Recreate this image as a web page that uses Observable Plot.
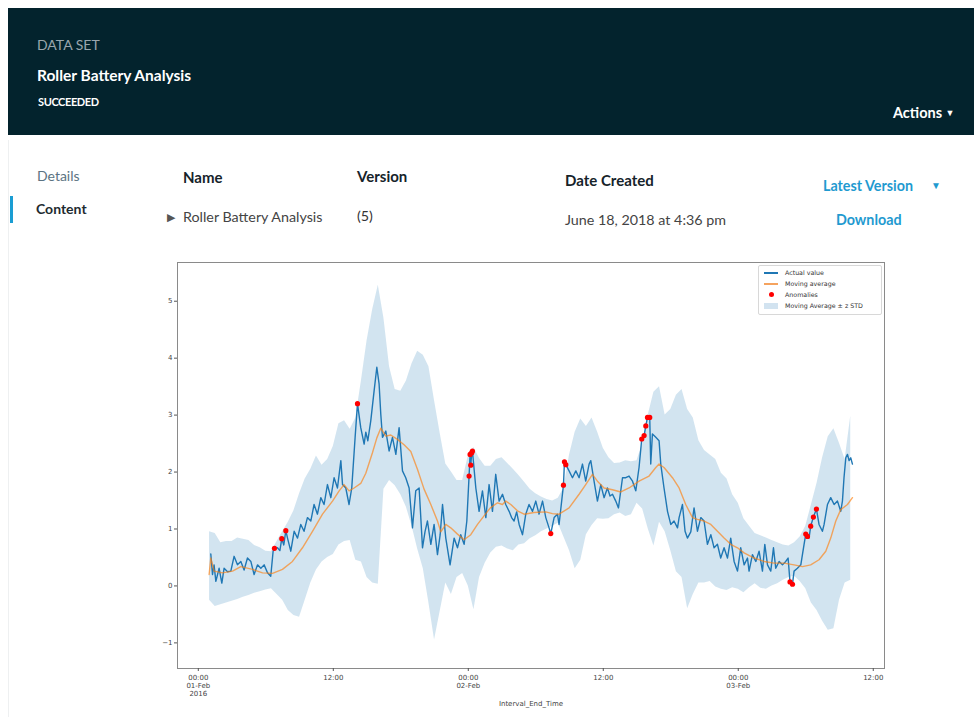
<!DOCTYPE html>
<html>
<head>
<meta charset="utf-8">
<script src="https://cdn.jsdelivr.net/npm/d3@7"></script>
<script src="https://cdn.jsdelivr.net/npm/@observablehq/plot@0.6"></script>
<style>
  html, body { margin: 0; padding: 0; background: #fff; }
  #page { position: relative; width: 974px; height: 717px; overflow: hidden; font-family: Lato, "Open Sans", sans-serif; }
  .t { position: absolute; white-space: nowrap; line-height: 1; }
  #header { position: absolute; left: 8px; top: 8px; width: 966px; height: 127px; background: #03232d; }
  #chart { position: absolute; left: 130px; top: 250px; }
  #legend { position: absolute; left: 758px; top: 265px; width: 122px; height: 48px; background: rgba(255,255,255,0.9); border: 1px solid #d8d8d8; border-radius: 2px; font-family: "DejaVu Sans", sans-serif; font-size: 6.3px; color: #333; }
  .lg { position: absolute; left: 0; height: 10px; width: 122px; }
  .lg .sym { position: absolute; left: 5px; top: 4px; width: 14px; height: 2px; }
  .lg .lab { position: absolute; left: 26px; top: 1px; white-space: nowrap; }
</style>
</head>
<body>
<div id="page">
  <div id="header"></div>
  <div class="t" style="left:37px;top:38px;font-size:14px;color:#9aa6ad;">DATA SET</div>
  <div class="t" style="left:37px;top:68px;font-size:15.5px;color:#fff;font-weight:700;">Roller Battery Analysis</div>
  <div class="t" style="left:38px;top:96px;font-size:11px;color:#fff;font-weight:700;letter-spacing:-0.4px;">SUCCEEDED</div>
  <div class="t" style="left:893px;top:106px;font-size:14.5px;color:#fff;font-weight:700;">Actions <span style="font-size:9px;vertical-align:2px;">&#9660;</span></div>

  <div style="position:absolute;left:8px;top:140px;width:1px;height:577px;background:#eef0f1;"></div>
  <div style="position:absolute;left:10px;top:196px;width:3px;height:27px;background:#1a9dd3;"></div>
  <div class="t" style="left:37px;top:169px;font-size:14px;color:#5b7382;">Details</div>
  <div class="t" style="left:36px;top:202px;font-size:14px;color:#1e2a30;font-weight:700;">Content</div>

  <div class="t" style="left:183px;top:170px;font-size:15px;color:#16232a;font-weight:700;">Name</div>
  <div class="t" style="left:357px;top:169px;font-size:15px;color:#16232a;font-weight:700;">Version</div>
  <div class="t" style="left:565px;top:173px;font-size:15px;color:#16232a;font-weight:700;">Date Created</div>
  <div class="t" style="left:823px;top:179px;font-size:14.3px;color:#1f9ad0;font-weight:700;">Latest Version</div>
  <div class="t" style="left:931px;top:180px;font-size:10px;color:#1f9ad0;">&#9660;</div>

  <div class="t" style="left:167px;top:211px;font-size:11px;color:#555;">&#9654;</div>
  <div class="t" style="left:183px;top:210px;font-size:14.3px;color:#444;">Roller Battery Analysis</div>
  <div class="t" style="left:357px;top:209px;font-size:14.3px;color:#333;">(5)</div>
  <div class="t" style="left:565px;top:213px;font-size:14.3px;color:#444;">June 18, 2018 at 4:36 pm</div>
  <div class="t" style="left:836px;top:213px;font-size:14.3px;color:#1f9ad0;font-weight:700;">Download</div>

  <div id="chart"></div>
  <div id="legend">
    <div class="lg" style="top:2px;"><div class="sym" style="background:#1f77b4;"></div><div class="lab">Actual value</div></div>
    <div class="lg" style="top:13px;"><div class="sym" style="background:#f5a35e;"></div><div class="lab">Moving average</div></div>
    <div class="lg" style="top:24px;"><div class="sym" style="left:10px;top:2px;width:5px;height:5px;border-radius:50%;background:red;"></div><div class="lab">Anomalies</div></div>
    <div class="lg" style="top:35px;"><div class="sym" style="top:2px;height:6px;background:#d2e3f0;"></div><div class="lab">Moving Average &#177; z STD</div></div>
  </div>
</div>
<script>
// ---- data (hours after 2016-02-01 00:00) ----
const actualHours = [1.11,1.26,1.40,1.56,1.85,2.09,2.29,2.60,2.89,3.18,3.48,3.78,4.07,4.37,4.67,4.96,5.26,5.56,5.85,6.15,6.44,6.65,6.77,7.04,7.25,7.42,7.60,7.78,7.93,8.22,8.52,8.82,9.11,9.40,9.70,10.00,10.29,10.59,10.89,11.18,11.48,11.78,12.07,12.37,12.67,12.82,13.11,13.40,13.64,13.94,14.15,14.44,14.74,14.89,15.07,15.33,15.63,15.87,16.07,16.22,16.37,16.67,16.96,17.26,17.56,17.85,18.15,18.44,18.74,19.04,19.33,19.63,19.93,20.15,20.37,20.67,20.96,21.26,21.50,21.71,22.00,22.38,22.74,23.04,23.33,23.63,23.87,24.07,24.16,24.22,24.31,24.37,24.67,24.96,25.26,25.56,25.85,26.15,26.44,26.74,27.04,27.33,27.63,27.85,28.07,28.30,28.52,28.82,29.11,29.40,29.71,30.00,30.29,30.60,30.89,31.18,31.33,31.63,31.93,32.07,32.46,32.55,32.67,32.96,33.26,33.56,33.85,34.15,34.44,34.74,34.89,35.18,35.48,35.78,36.07,36.37,36.60,36.82,37.11,37.35,37.71,38.00,38.29,38.60,38.89,39.18,39.42,39.63,39.78,39.93,40.13,40.22,40.37,40.67,40.96,41.11,41.40,41.71,42.00,42.29,42.60,42.74,43.04,43.27,43.48,43.78,44.07,44.37,44.67,44.96,45.26,45.56,45.85,46.15,46.44,46.74,47.04,47.33,47.63,47.93,48.22,48.52,48.82,48.96,49.26,49.56,49.85,50.15,50.36,50.60,50.89,51.13,51.33,51.63,51.93,52.22,52.43,52.60,52.82,52.96,53.26,53.56,53.85,54.00,54.15,54.29,54.44,54.68,54.95,55.18,55.48,55.63,55.93,56.22,56.52,56.82,57.11,57.26,57.40,57.56,57.71,57.85,58.00,58.15];
const actualValues = [0.56,0.20,0.37,0.08,0.31,0.05,0.31,0.25,0.26,0.52,0.37,0.43,0.28,0.49,0.43,0.20,0.37,0.31,0.37,0.23,0.17,0.61,0.66,0.67,0.62,0.83,0.72,0.97,0.84,0.61,0.96,0.84,1.08,0.96,1.20,1.14,1.43,1.26,1.55,1.43,1.78,1.55,1.90,1.72,2.20,1.78,1.72,1.43,1.72,2.61,3.20,2.78,2.49,2.70,2.55,2.90,3.43,3.84,3.55,3.02,2.61,2.72,2.37,2.61,2.31,2.78,2.02,1.90,1.72,1.02,1.67,1.72,0.67,0.95,1.14,0.73,1.08,0.55,0.90,1.43,0.84,0.37,0.84,0.67,0.90,0.73,1.14,1.93,2.31,2.12,2.34,2.37,1.72,1.31,1.67,1.20,1.78,1.31,1.96,1.49,1.61,1.43,1.31,1.20,1.14,1.30,1.08,0.90,1.26,1.43,1.31,1.49,1.26,1.49,1.20,1.02,0.92,1.20,1.26,1.08,1.77,2.18,2.13,2.02,1.90,2.02,1.90,2.14,1.84,2.14,2.20,1.84,1.49,1.78,1.55,1.72,1.58,1.61,1.49,1.37,1.90,1.90,1.93,1.84,1.67,2.08,2.58,2.64,2.81,2.96,2.96,2.14,2.67,2.61,2.55,2.14,1.72,1.31,1.08,1.14,1.02,1.20,1.43,0.96,0.84,0.95,1.37,0.96,1.20,1.14,0.73,0.90,0.67,0.73,0.49,0.67,0.49,0.84,0.43,0.26,0.67,0.37,0.49,0.26,0.55,0.43,0.61,0.26,0.73,0.37,0.26,0.67,0.31,0.43,0.37,0.43,0.49,0.07,0.03,0.26,0.31,0.37,0.73,0.91,0.87,0.84,1.05,1.21,1.35,1.08,0.96,1.08,1.43,1.55,1.43,1.49,1.31,1.49,1.90,2.25,2.31,2.20,2.25,2.14];

const maHours = [0.96,1.11,1.40,2.15,3.04,3.78,4.82,5.71,6.60,7.48,8.37,9.26,10.15,11.04,11.93,12.52,12.96,13.40,13.85,14.44,14.89,15.48,15.87,16.22,16.67,17.11,17.73,18.29,18.89,19.48,20.07,20.67,21.26,21.56,22.00,22.44,23.04,23.63,24.22,24.82,25.40,25.96,26.60,27.04,27.33,27.78,28.37,28.96,29.85,30.89,31.48,32.07,32.96,33.85,34.44,35.04,35.48,36.07,36.82,37.56,38.29,39.18,40.07,40.67,40.96,41.40,42.15,42.74,43.33,43.93,44.37,44.96,45.56,46.15,46.74,47.33,47.93,48.52,49.41,50.30,51.18,52.07,52.96,53.71,54.44,55.18,55.78,56.22,56.67,57.11,57.71,58.15];
const maValues = [0.20,0.49,0.26,0.23,0.26,0.34,0.29,0.23,0.22,0.29,0.43,0.67,0.96,1.26,1.49,1.67,1.78,1.67,1.72,1.80,1.98,2.34,2.60,2.77,2.63,2.65,2.57,2.48,2.36,2.05,1.70,1.43,1.14,0.95,1.08,1.02,0.91,0.81,0.90,1.08,1.23,1.37,1.46,1.43,1.49,1.43,1.32,1.26,1.29,1.30,1.27,1.26,1.37,1.61,1.78,1.96,1.84,1.72,1.69,1.65,1.72,1.84,1.93,2.08,2.14,2.08,1.90,1.72,1.43,1.20,1.17,1.14,1.08,0.96,0.84,0.73,0.67,0.58,0.49,0.43,0.40,0.40,0.37,0.34,0.37,0.46,0.61,0.84,1.14,1.34,1.43,1.55];

const anomalyHours = [6.77,7.42,7.78,14.15,24.07,24.16,24.22,24.31,24.37,31.33,32.46,32.55,32.67,39.42,39.63,39.78,39.93,40.13,52.60,52.82,54.00,54.15,54.44,54.68,54.95];
const anomalyValues = [0.66,0.83,0.97,3.20,1.93,2.31,2.12,2.34,2.37,0.92,1.77,2.18,2.13,2.58,2.64,2.81,2.96,2.96,0.07,0.03,0.91,0.87,1.05,1.21,1.35];

// band: moving average ± z·STD, sampled every 30 minutes from 01:00 on 01-Feb
const bandStartHour = 1.0;
const bandStepHours = 0.5;
const bandUpper = [0.95,0.92,0.76,0.78,0.78,0.84,0.82,0.80,0.71,0.67,0.61,0.60,0.78,0.95,1.12,1.32,1.62,1.88,2.05,2.28,2.12,2.22,2.45,2.85,2.90,2.75,2.95,3.60,4.30,4.85,5.28,4.70,3.85,3.45,3.42,3.60,3.90,4.12,4.05,3.85,3.25,2.68,2.14,2.00,1.85,1.85,2.28,2.43,2.24,2.10,2.10,2.22,2.25,2.15,2.05,1.94,1.82,1.70,1.62,1.56,1.52,1.49,1.54,1.72,2.30,2.70,2.93,2.80,2.95,2.70,2.42,2.25,2.15,2.16,2.20,2.18,2.20,2.50,3.00,3.40,3.50,3.00,3.10,3.35,3.45,3.10,2.95,2.55,2.38,2.30,2.22,1.98,1.88,1.60,1.45,1.18,1.05,0.92,0.88,0.84,0.80,0.76,0.72,0.70,0.76,0.86,1.05,1.42,1.80,2.25,2.62,2.76,2.50,2.22,2.98];
const bandLower = [-0.25,-0.36,-0.33,-0.30,-0.27,-0.24,-0.20,-0.17,-0.13,-0.10,-0.07,-0.05,-0.15,-0.25,-0.43,-0.52,-0.55,-0.25,0.05,0.28,0.42,0.50,0.55,0.72,0.78,0.80,0.45,0.42,0.15,0.05,0.03,1.70,1.85,1.76,1.60,1.38,1.05,0.65,0.30,-0.30,-0.95,-0.45,0.05,-0.15,0.15,0.22,0.00,-0.42,0.15,0.40,0.58,0.68,0.70,0.65,0.62,0.72,0.74,0.83,0.88,0.95,1.00,1.05,1.10,0.86,0.62,0.30,0.45,0.90,1.06,1.18,1.17,1.18,1.25,1.28,1.22,1.25,1.45,1.35,1.00,0.70,1.12,0.95,0.62,0.25,0.15,-0.40,-0.15,0.05,0.05,0.08,-0.02,-0.06,-0.08,-0.03,-0.06,-0.12,-0.03,0.04,-0.04,-0.06,0.00,0.04,0.10,0.15,0.17,0.08,-0.05,-0.30,-0.43,-0.62,-0.78,-0.75,-0.25,0.05,0.10];

const yTicks = [-1, 0, 1, 2, 3, 4, 5];
const xTickHours = [0, 12, 24, 36, 48, 60];
const xTickLabels = ["00:00\n01-Feb\n2016", "12:00", "00:00\n02-Feb", "12:00", "00:00\n03-Feb", "12:00"];
const xAxisLabel = "Interval_End_Time";

// ---- build tables ----
const T0 = Date.UTC(2016, 1, 1);
const at = h => new Date(T0 + h * 3600e3);
const actual = actualHours.map((h, i) => ({t: at(h), v: actualValues[i]}));
const ma = maHours.map((h, i) => ({t: at(h), v: maValues[i]}));
const anomalies = anomalyHours.map((h, i) => ({t: at(h), v: anomalyValues[i]}));
const band = bandUpper.map((u, i) => ({t: at(bandStartHour + i * bandStepHours), hi: u, lo: bandLower[i]}));
const tickDates = xTickHours.map(at);
const labelOf = new Map(tickDates.map((d, i) => [+d, xTickLabels[i]]));

const chart = Plot.plot({
  width: 780,
  height: 465,
  marginLeft: 47,
  marginRight: 26,
  marginTop: 12,
  marginBottom: 47,
  style: {fontFamily: "DejaVu Sans, sans-serif", fontSize: "7px", color: "#444", background: "transparent"},
  x: {type: "utc", domain: [at(-1.85), at(61.0)]},
  y: {domain: [-1.45, 5.68]},
  marks: [
    Plot.areaY(band, {x: "t", y1: "lo", y2: "hi", fill: "#1f77b4", fillOpacity: 0.2}),
    Plot.line(actual, {x: "t", y: "v", stroke: "#1f77b4", strokeWidth: 1.4}),
    Plot.line(ma, {x: "t", y: "v", stroke: "#ff7f0e", strokeOpacity: 0.65, strokeWidth: 1.4}),
    Plot.dot(anomalies, {x: "t", y: "v", r: 2.6, fill: "red", stroke: "none"}),
    Plot.frame({stroke: "#8a8a8a"}),
    Plot.axisY({ticks: yTicks, tickSize: 3, tickPadding: 2, label: null, stroke: "#555"}),
    Plot.axisX({ticks: tickDates, tickFormat: d => labelOf.get(+d), tickSize: 3, tickPadding: 3, label: null, lineHeight: 1.15, stroke: "#555"}),
    Plot.text([xAxisLabel], {frameAnchor: "bottom", dy: 37, fill: "#444"})
  ]
});
document.getElementById("chart").appendChild(chart);
</script>
</body>
</html>
